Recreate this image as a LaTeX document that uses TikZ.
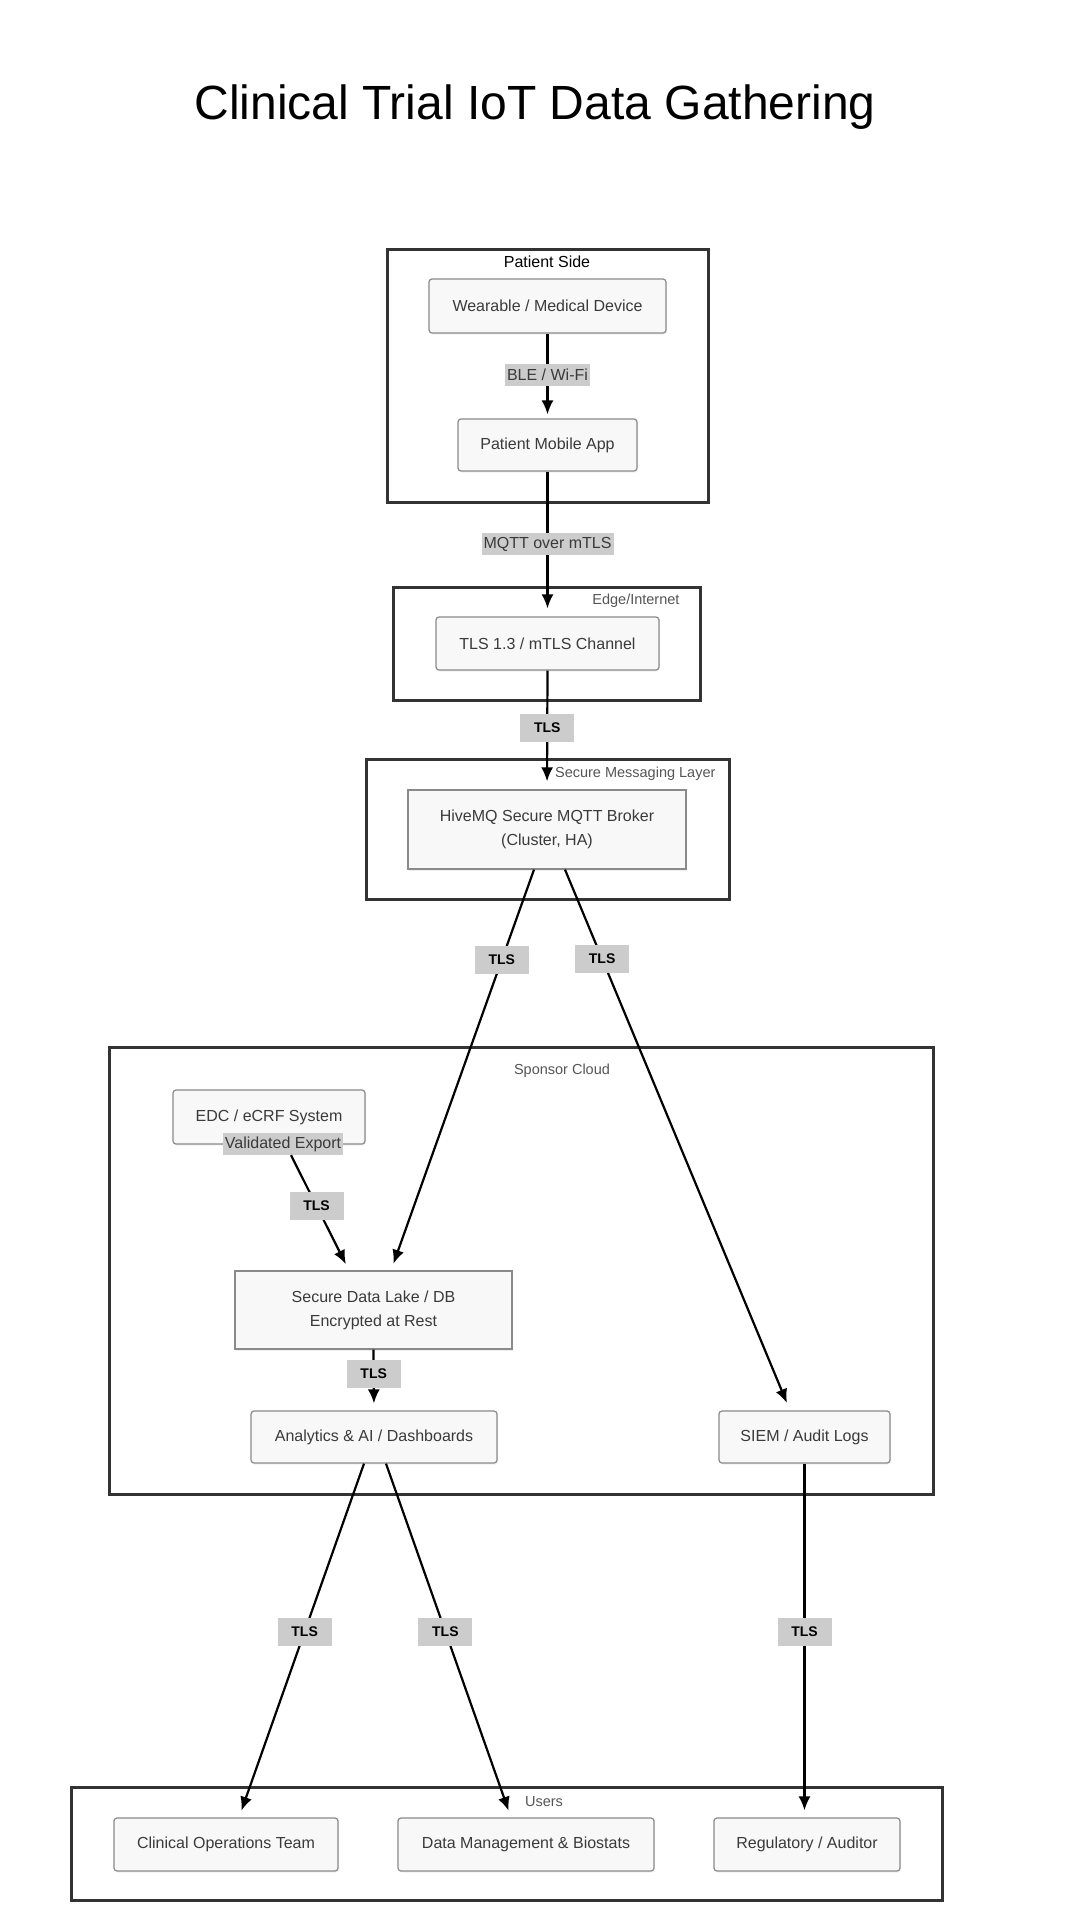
\documentclass[tikz,border=0pt]{standalone}
\usepackage{fontspec}
\setmainfont{Liberation Sans}
\usetikzlibrary{arrows.meta, shadows}
\definecolor{boxline}{HTML}{8A8A8A}
\definecolor{boxfill}{HTML}{F8F8F8}
\definecolor{grpline}{HTML}{333333}
\definecolor{lblfill}{HTML}{CCCCCC}
\definecolor{txt}{HTML}{3A3A3A}
\definecolor{grptxt}{HTML}{555555}

\begin{document}
\begin{tikzpicture}[x = 1pt, y = -1pt,
		group/.style = {draw = grpline, line width = 3pt, inner sep = 0pt},
		grplabel/.style = {text = grptxt, font = \fontsize{14.5}{17}\selectfont},
		unit/.style = {draw = boxline, fill = boxfill, line width = 1.2pt, rounded corners = 3pt,
			text = txt, align = center, inner sep = 0pt, font = \fontsize{16}{24}\selectfont,
			drop shadow = {opacity = 0.12, shadow xshift = 1pt, shadow yshift = -1.5pt}},
		store/.style = {unit, sharp corners},
		tls/.style = {fill = lblfill, font = \bfseries\fontsize{14}{16}\selectfont,
			minimum width = 54pt, minimum height = 28pt, inner sep = 0pt},
		proto/.style = {fill = lblfill, text = txt, font = \fontsize{16}{18}\selectfont,
			inner xsep = 2pt, inner ysep = 0pt, minimum height = 22pt},
		arr/.style = {-{Latex[length = 14pt, width = 12pt]}, line width = 2.2pt}]
		\fill[white] (0, 0) rectangle (1080, 1920);
		\useasboundingbox (0, 0) rectangle (1080, 1920);
		%%%%%%%%%%%%%
		\node[font = \fontsize{48}{56}\selectfont] (title) at (535, 107) {Clinical Trial IoT Data Gathering};
		%%%%%%%%%%%%% groups
		\node[group, minimum width = 321pt, minimum height = 253pt] (patient) at (547.5, 375.5) {};
		\node[group, minimum width = 307pt, minimum height = 113pt] (edgenet) at (546.5, 643.5) {};
		\node[group, minimum width = 363pt, minimum height = 140pt] (msg) at (547.5, 829) {};
		\node[group, minimum width = 824pt, minimum height = 447pt] (sponsor) at (521, 1270.5) {};
		\node[group, minimum width = 871pt, minimum height = 113pt] (users) at (506.5, 1843.5) {};
		\node[font = \fontsize{16}{18}\selectfont] (patientlbl) at (547, 262) {Patient Side};
		\node[grplabel, anchor = east] (edgelbl) at (683, 601) {Edge/Internet};
		\node[grplabel, anchor = east] (msglbl) at (719, 774) {Secure Messaging Layer};
		\node[grplabel] (sponsorlbl) at (562, 1071) {Sponsor Cloud};
		\node[grplabel] (userslbl) at (544, 1802) {Users};
		%%%%%%%%%%%%% units
		\node[unit, minimum width = 237pt, minimum height = 54pt] (wearable) at (547.5, 306) {Wearable / Medical Device};
		\node[unit, minimum width = 179pt, minimum height = 52pt] (app) at (547.5, 445) {Patient Mobile App};
		\node[unit, minimum width = 223pt, minimum height = 53pt] (channel) at (547.5, 643.5) {TLS 1.3 / mTLS Channel};
		\node[store, minimum width = 278pt, minimum height = 79pt] (broker) at (547, 829.5) {HiveMQ Secure MQTT Broker\\(Cluster, HA)};
		\node[unit, minimum width = 192pt, minimum height = 54pt] (edc) at (269, 1117) {EDC / eCRF System};
		\node[proto] (edcx) at (283, 1144) {Validated Export};
		\node[store, minimum width = 277pt, minimum height = 78pt] (lake) at (373.5, 1310) {Secure Data Lake / DB\\Encrypted at Rest};
		\node[unit, minimum width = 246pt, minimum height = 52pt] (analytics) at (374, 1437) {Analytics \& AI / Dashboards};
		\node[unit, minimum width = 171pt, minimum height = 52pt] (siem) at (804.5, 1437) {SIEM / Audit Logs};
		\node[unit, minimum width = 224pt, minimum height = 53pt] (clinops) at (226, 1844.5) {Clinical Operations Team};
		\node[unit, minimum width = 256pt, minimum height = 53pt] (datamgmt) at (526, 1844.5) {Data Management \& Biostats};
		\node[unit, minimum width = 186pt, minimum height = 53pt] (regulator) at (807, 1844.5) {Regulatory / Auditor};
		%%%%%%%%%%%%% connectors
		\draw[arr, shorten >= 4pt] (wearable.south) to node[proto, pos = 0.49] {BLE / Wi-Fi} (app.north);
		\draw[arr, shorten >= 8pt] (app.south) to node[proto, pos = 0.5] {MQTT over mTLS} (channel.north);
		\draw[arr, shorten >= 8pt] (channel.south) to node[tls, pos = 0.48] {TLS} (broker.north);
		\draw[arr, shorten >= 7pt] ([xshift = -13pt]broker.south) to node[tls, pos = 0.225] {TLS} ([xshift = 17.5pt]lake.north);
		\draw[arr, shorten >= 8pt] ([xshift = 18pt]broker.south) to node[tls, pos = 0.165] {TLS} ([xshift = -14.5pt]siem.north);
		\draw[arr, shorten >= 7pt] ([xshift = 8pt]edcx.south) to node[tls, pos = 0.44] {TLS} ([xshift = -24.5pt]lake.north);
		\draw[arr, shorten >= 7pt] (lake.south) to node[tls, pos = 0.4] {TLS} (analytics.north);
		\draw[arr, shorten >= 7pt] ([xshift = -10pt]analytics.south) to node[tls, pos = 0.475] {TLS} ([xshift = 13pt]clinops.north);
		\draw[arr, shorten >= 7pt] ([xshift = 12pt]analytics.south) to node[tls, pos = 0.475] {TLS} ([xshift = -15pt]datamgmt.north);
		\draw[arr, shorten >= 7pt] (siem.south) to node[tls, pos = 0.475] {TLS} ([xshift = -2.5pt]regulator.north);
\end{tikzpicture}
\end{document}
